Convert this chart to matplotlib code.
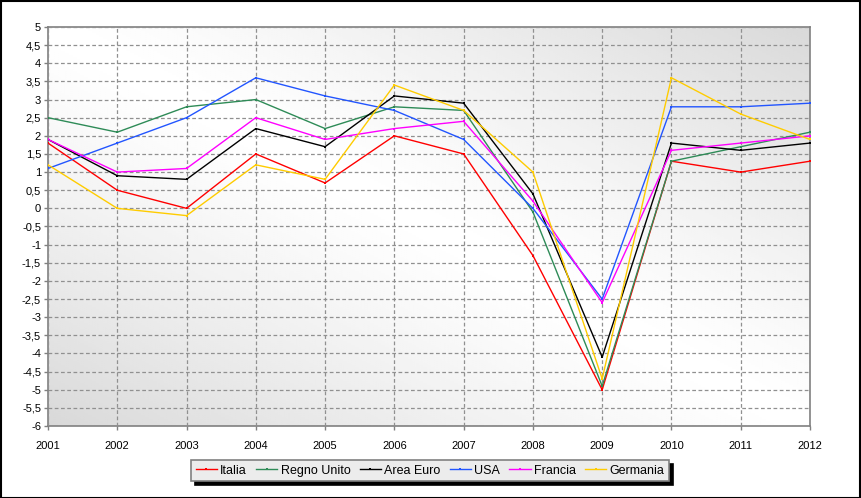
import numpy as np
import matplotlib
matplotlib.use("Agg")
import matplotlib.pyplot as plt
from matplotlib.patches import Rectangle

plt.rcParams['font.family'] = ['Liberation Sans', 'DejaVu Sans']

years = [2001, 2002, 2003, 2004, 2005, 2006, 2007, 2008, 2009, 2010, 2011, 2012]
italia = [1.8, 0.5, 0.0, 1.5, 0.7, 2.0, 1.5, -1.3, -5.0, 1.3, 1.0, 1.3]
regno_unito = [2.5, 2.1, 2.8, 3.0, 2.2, 2.8, 2.7, -0.1, -4.9, 1.3, 1.7, 2.1]
area_euro = [1.9, 0.9, 0.8, 2.2, 1.7, 3.1, 2.9, 0.4, -4.1, 1.8, 1.6, 1.8]
usa = [1.1, 1.8, 2.5, 3.6, 3.1, 2.7, 1.9, 0.0, -2.5, 2.8, 2.8, 2.9]
francia = [1.9, 1.0, 1.1, 2.5, 1.9, 2.2, 2.4, 0.2, -2.6, 1.6, 1.8, 2.0]
germania = [1.2, 0.0, -0.2, 1.2, 0.8, 3.4, 2.7, 1.0, -4.7, 3.6, 2.6, 1.9]

series = [
    ("Italia", italia, "#ff0000"),
    ("Regno Unito", regno_unito, "#2e8b57"),
    ("Area Euro", area_euro, "#000000"),
    ("USA", usa, "#2255ff"),
    ("Francia", francia, "#ff00ff"),
    ("Germania", germania, "#ffcc00"),
]

W, H = 861, 498
fig = plt.figure(figsize=(W / 100, H / 100), dpi=100)
fig.patch.set_facecolor("white")
# outer black border
fig.add_artist(Rectangle((0.5 / W, 0.5 / H), 1 - 1.5 / W, 1 - 1.5 / H,
                         transform=fig.transFigure, fill=False,
                         edgecolor="black", linewidth=1.5))

x0, x1, y0, y1 = 48, 810, 27, 426
ax = fig.add_axes([x0 / W, 1 - y1 / H, (x1 - x0) / W, (y1 - y0) / H])

# diagonal gradient background
n = 200
gx, gy = np.meshgrid(np.linspace(0, 1, n), np.linspace(0, 1, n))
d = (gx + (1 - gy)) / 2.0  # 0 top-left, 1 bottom-right
val = 1.0 - 0.15 * np.clip((0.5 - d) / 0.5, 0, 1) ** 1.2 - 0.15 * np.clip((d - 0.5) / 0.5, 0, 1) ** 1.2
ax.imshow(val, cmap="gray", vmin=0, vmax=1, extent=[0, 1, 0, 1],
          transform=ax.transAxes, aspect="auto", zorder=0, interpolation="bilinear")

for name, vals, col in series:
    ax.plot(years, vals, color=col, linewidth=1.0, marker="s", markersize=2,
            markeredgewidth=0, label=name, zorder=3)

ax.set_xlim(2001, 2012)
ax.set_ylim(-6, 5)
ax.set_xticks(years)
ax.set_xticklabels([str(y) for y in years])
yt = np.arange(-6, 5.01, 0.5)
ax.set_yticks(yt)
ax.set_yticklabels([("%g" % v).replace(".", ",") for v in yt])
ax.tick_params(axis="both", labelsize=8, length=3, width=1, color="#808080", direction="out")
ax.tick_params(axis="x", pad=8)
ax.tick_params(axis="y", pad=2)
ax.grid(True, color="#909090", linestyle=(0, (3, 2)), linewidth=0.9, zorder=1)
ax.set_axisbelow(False)
for s in ax.spines.values():
    s.set_color("#808080")
    s.set_linewidth(1.2)

leg = fig.legend(loc="center", bbox_to_anchor=(430 / W, 1 - 470.5 / H), ncol=6,
                 fontsize=9, frameon=True, fancybox=False,
                 shadow={"color": "black", "alpha": 1.0, "ox": 3, "oy": -3},
                 handlelength=1.7, handletextpad=0.25, columnspacing=0.75,
                 borderpad=0.35, borderaxespad=0)
leg.get_frame().set_facecolor("#ececec")
leg.get_frame().set_edgecolor("#808080")
leg.get_frame().set_linewidth(1.2)

fig.savefig("out.png", dpi=100)
